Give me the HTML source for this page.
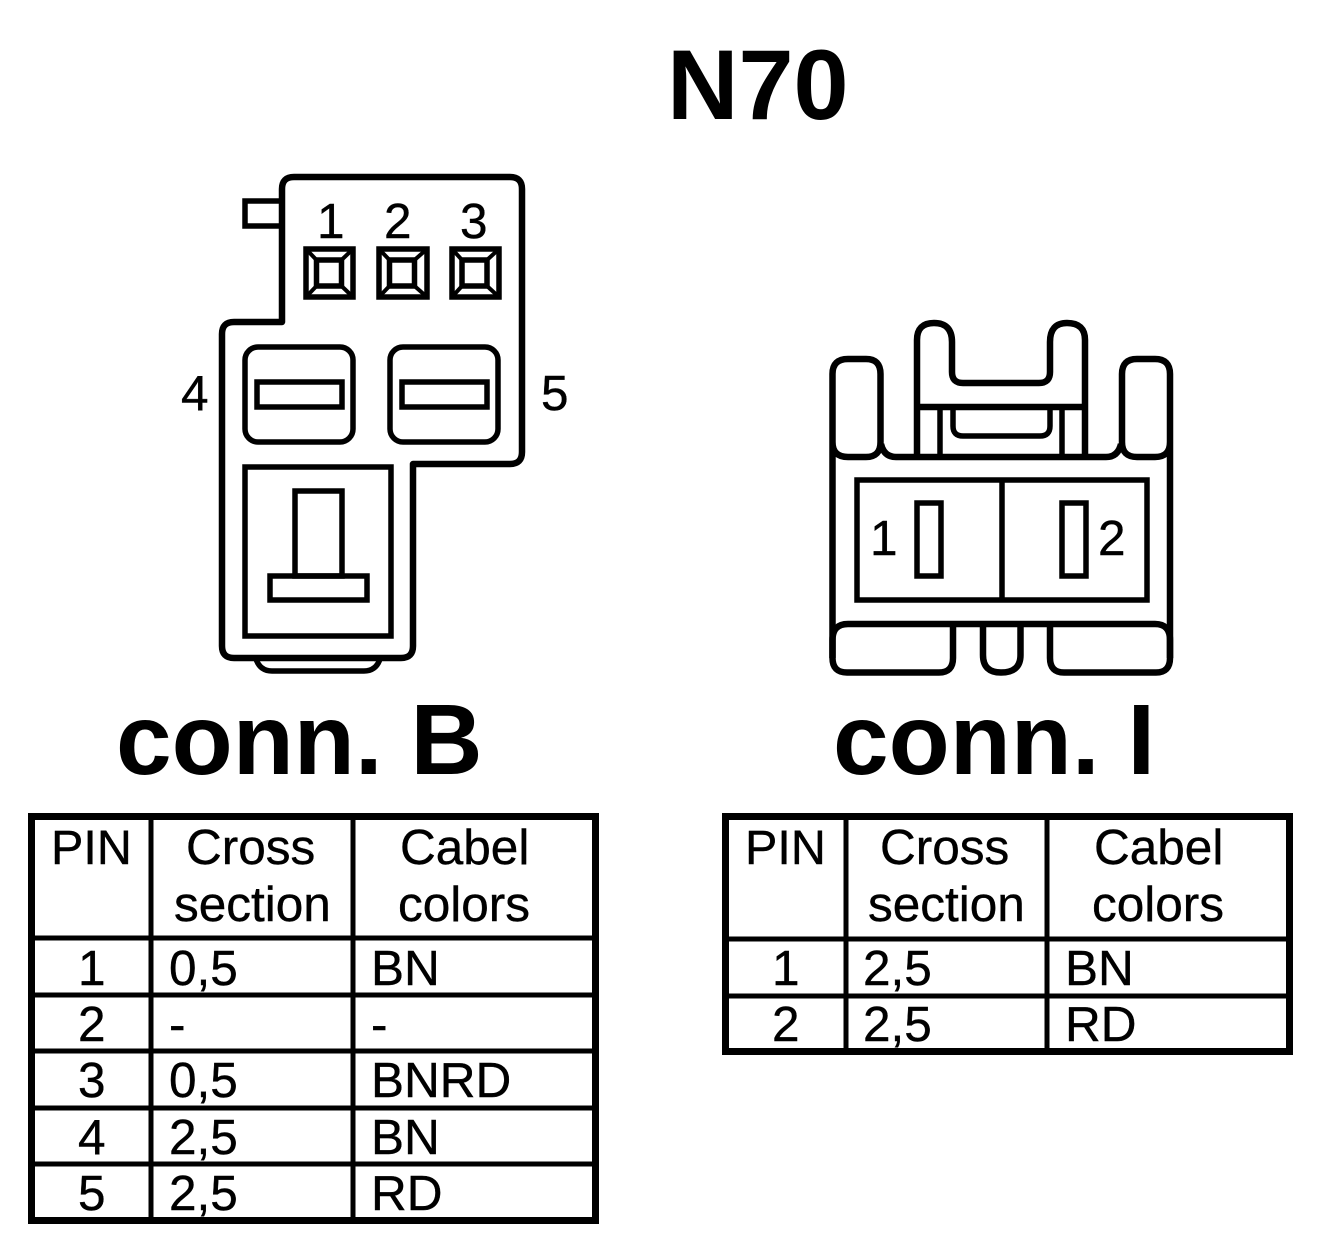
<!DOCTYPE html>
<html><head><meta charset="utf-8"><title>N70</title>
<style>html,body{margin:0;padding:0;background:#fff}svg{display:block}
text{font-family:"Liberation Sans",Arial,sans-serif;fill:#000}
.b{font-weight:bold}.t{font-size:49.5px;stroke:#000;stroke-width:.4}.d{font-size:49.5px;stroke:#000;stroke-width:.4}
.s{fill:none;stroke:#000;stroke-width:6.5;stroke-linejoin:round}
.m{fill:none;stroke:#000;stroke-width:5.5}
.th{fill:none;stroke:#000;stroke-width:4}
</style></head><body>
<svg width="1328" height="1250" viewBox="0 0 1328 1250" xmlns="http://www.w3.org/2000/svg">
<rect width="1328" height="1250" fill="#fff"/>
<text class="b" x="667" y="119" font-size="99">N70</text>
<text class="b" x="116" y="774" font-size="100">conn. B</text>
<text class="b" x="833" y="774" font-size="100">conn. I</text>

<!-- conn B -->
<path class="s" d="M282 322V189Q282 177 294 177H510Q522 177 522 189V452Q522 464 510 464H413V646Q413 658 401 658H234Q222 658 222 646V334Q222 322 234 322Z"/>
<path class="m" d="M282 201H245V226H282"/>
<path class="m" d="M256 659Q260 671 272 671H364Q376 671 380 659"/>
<rect class="m" x="245" y="347" width="108" height="95" rx="13"/>
<rect class="m" x="390" y="347" width="108" height="95" rx="13"/>
<rect class="m" x="257" y="382" width="85" height="25"/>
<rect class="m" x="402" y="382" width="85" height="25"/>
<rect class="m" x="245" y="467" width="146" height="169"/>
<rect class="m" x="295" y="491" width="47" height="85"/>
<rect class="m" x="270" y="576" width="97" height="24"/>

<g>
<rect class="m" x="306" y="249" width="47" height="48"/>
<rect class="m" x="316.5" y="260" width="25" height="26"/>
<path class="th" d="M306 249L316.5 260M353 249L341.5 260M306 297L316.5 286M353 297L341.5 286"/>
</g>
<g>
<rect class="m" x="379" y="249" width="48" height="48"/>
<rect class="m" x="389.5" y="260" width="25" height="26"/>
<path class="th" d="M379 249L389.5 260M427 249L414.5 260M379 297L389.5 286M427 297L414.5 286"/>
</g>
<g>
<rect class="m" x="452" y="249" width="47" height="48"/>
<rect class="m" x="462" y="260" width="25" height="26"/>
<path class="th" d="M452 249L462 260M499 249L487 260M452 297L462 286M499 297L487 286"/>
</g>
<text class="d" x="317" y="238">1</text>
<text class="d" x="384" y="238">2</text>
<text class="d" x="460" y="238">3</text>
<text class="d" x="181" y="410">4</text>
<text class="d" x="541" y="410">5</text>

<!-- conn I -->
<path class="s" d="M832.5 658V374Q832.5 359 848 359H866Q880.5 359 880.5 374V442Q880.5 457 866 457H848Q832.5 457 832.5 442"/>
<path class="s" d="M1170 658V374Q1170 359 1155 359H1137Q1122 359 1122 374V442Q1122 457 1137 457H1155Q1170 457 1170 442"/>
<path class="s" d="M881 444Q884 457 896 457H1106Q1118 457 1121 444"/>
<path class="s" d="M917 457V340Q917 323 934 323Q952 323 952 342V372Q952 383 963 383H1039Q1050 383 1050 372V342Q1050 323 1067 323Q1085 323 1085 340V457"/>
<path class="s" d="M917 407H1085"/>
<path class="m" d="M940 407V457M1062 407V457"/>
<path class="m" d="M953 407V426Q953 436 963 436H1040Q1050 436 1050 426V407"/>
<rect class="m" x="857" y="480" width="290" height="120"/>
<path class="m" d="M1002 480V600"/>
<rect class="m" x="917" y="503" width="24" height="73"/>
<rect class="m" x="1062" y="503" width="24" height="73"/>
<text class="d" x="870" y="555">1</text>
<text class="d" x="1098" y="555">2</text>
<path class="s" d="M953 624V658Q953 672.5 939 672.5H847Q832.5 672.5 832.5 658V640Q832.5 624 848 624H1155Q1170 624 1170 640V658Q1170 672.5 1156 672.5H1064Q1050 672.5 1050 658V624"/>
<path class="s" d="M983 624V655Q983 672.5 1001 672.5Q1020.5 672.5 1020.5 655V624"/>

<!-- table left -->
<rect x="31.5" y="816.5" width="564" height="404" fill="none" stroke="#000" stroke-width="7"/>
<path fill="none" stroke="#000" stroke-width="5" d="M151 816V1221M353 816V1221M31 938H596M31 995H596M31 1051H596M31 1108H596M31 1164H596"/>
<text class="t" x="51" y="864" style="font-size:48.5px">PIN</text>
<text class="t" x="186" y="864">Cross</text>
<text class="t" x="174" y="921">section</text>
<text class="t" x="400" y="864">Cabel</text>
<text class="t" x="398" y="921">colors</text>
<text class="t" x="78" y="985">1</text><text class="t" x="169" y="985">0,5</text><text class="t" x="371" y="985">BN</text>
<text class="t" x="78" y="1041">2</text><text class="t" x="169" y="1041">-</text><text class="t" x="371" y="1041">-</text>
<text class="t" x="78" y="1097">3</text><text class="t" x="169" y="1097">0,5</text><text class="t" x="371" y="1097">BNRD</text>
<text class="t" x="78" y="1154">4</text><text class="t" x="169" y="1154">2,5</text><text class="t" x="371" y="1154">BN</text>
<text class="t" x="78" y="1210">5</text><text class="t" x="169" y="1210">2,5</text><text class="t" x="371" y="1210">RD</text>

<!-- table right -->
<rect x="725.5" y="816.5" width="564" height="235" fill="none" stroke="#000" stroke-width="7"/>
<path fill="none" stroke="#000" stroke-width="5" d="M846 816V1052M1047 816V1052M725 939H1290M725 996H1290"/>
<text class="t" x="745" y="864" style="font-size:48.5px">PIN</text>
<text class="t" x="880" y="864">Cross</text>
<text class="t" x="868" y="921">section</text>
<text class="t" x="1094" y="864">Cabel</text>
<text class="t" x="1092" y="921">colors</text>
<text class="t" x="772" y="985">1</text><text class="t" x="863" y="985">2,5</text><text class="t" x="1065" y="985">BN</text>
<text class="t" x="772" y="1041">2</text><text class="t" x="863" y="1041">2,5</text><text class="t" x="1065" y="1041">RD</text>
</svg>
</body></html>
